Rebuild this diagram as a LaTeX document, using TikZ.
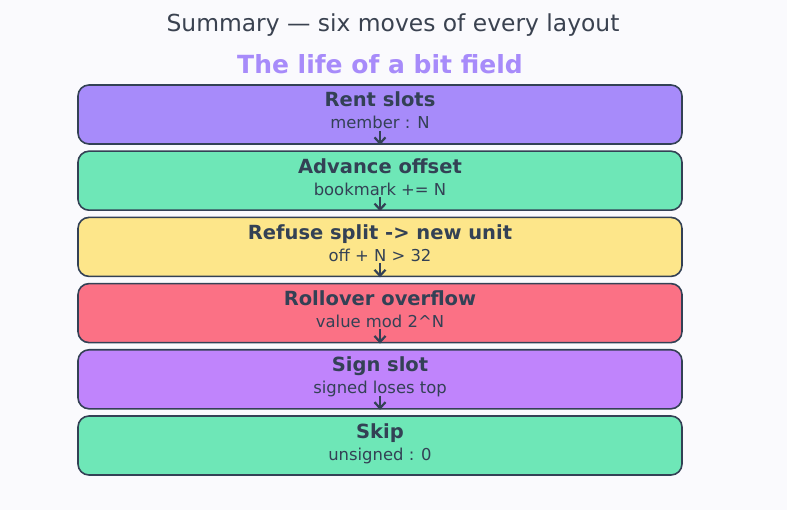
\documentclass[tikz,border=0pt]{standalone}
\usepackage{fontspec}
\setmainfont{DejaVu Sans}
\usetikzlibrary{arrows.meta,positioning}
\definecolor{ink}{HTML}{334155}
\definecolor{headgray}{HTML}{3A4250}
\definecolor{paper}{HTML}{FAFAFD}
\definecolor{lilac}{HTML}{A78BFA}
\definecolor{mint}{HTML}{6EE7B7}
\definecolor{butter}{HTML}{FDE68A}
\definecolor{rose}{HTML}{FB7185}
\definecolor{orchid}{HTML}{C084FC}

\begin{document}
\begin{tikzpicture}[x=1pt, y=-1pt, node distance=5.6pt,
  every node/.style={text=ink, inner sep=0pt},
  stage/.style={draw=ink, line width=1.6pt, rounded corners=11pt, minimum width=604pt,
    minimum height=59pt},
  head/.style={anchor=base, font=\fontsize{19.5}{23}\selectfont\bfseries},
  note/.style={anchor=base, font=\fontsize{16.4}{19}\selectfont},
  flow/.style={draw=ink, line width=1.6pt,
    -{Straight Barb[length=6pt,width=11pt,line width=2.2pt]}, shorten >=5.4pt}]
  \fill[paper] (0,0) rectangle (787,510);
  \useasboundingbox (0,0) rectangle (787,510);
  % headings
  \node[anchor=base, text=headgray, font=\fontsize{23.4}{27}\selectfont] (title) at (393,32) {Summary — six moves of every layout};
  \node[anchor=base, text=lilac, font=\fontsize{25}{29}\selectfont\bfseries] (subtitle) at (380,74) {The life of a bit field};
  % the six stages
  \node[stage, fill=lilac] (rent) at (380,114.5) {};
  \node[stage, fill=mint, below=of rent] (advance) {};
  \node[stage, fill=butter, below=of advance] (refuse) {};
  \node[stage, fill=rose, below=of refuse] (rollover) {};
  \node[stage, fill=orchid, below=of rollover] (sign) {};
  \node[stage, fill=mint, below=of sign] (skip) {};
  % stage texts
  \node[head] (rent-head) at ([yshift=-22.8pt]rent.north) {Rent slots};
  \node[note] (rent-note) at ([yshift=-44.8pt]rent.north) {member : N};
  \node[head] (advance-head) at ([yshift=-22.8pt]advance.north) {Advance offset};
  \node[note] (advance-note) at ([yshift=-44.8pt]advance.north) {bookmark += N};
  \node[head] (refuse-head) at ([yshift=-22.8pt]refuse.north) {Refuse split -> new unit};
  \node[note] (refuse-note) at ([yshift=-44.8pt]refuse.north) {off + N > 32};
  \node[head] (rollover-head) at ([yshift=-22.8pt]rollover.north) {Rollover overflow};
  \node[note] (rollover-note) at ([yshift=-44.8pt]rollover.north) {value mod 2\^{}N};
  \node[head] (sign-head) at ([yshift=-22.8pt]sign.north) {Sign slot};
  \node[note] (sign-note) at ([yshift=-44.8pt]sign.north) {signed loses top};
  \node[head] (skip-head) at ([yshift=-22.8pt]skip.north) {Skip};
  \node[note] (skip-note) at ([yshift=-44.8pt]skip.north) {unsigned : 0};
  % links between stages
  \draw[flow] ([yshift=14pt]rent.south) -- (advance.north);
  \draw[flow] ([yshift=14pt]advance.south) -- (refuse.north);
  \draw[flow] ([yshift=14pt]refuse.south) -- (rollover.north);
  \draw[flow] ([yshift=14pt]rollover.south) -- (sign.north);
  \draw[flow] ([yshift=14pt]sign.south) -- (skip.north);
\end{tikzpicture}
\end{document}
